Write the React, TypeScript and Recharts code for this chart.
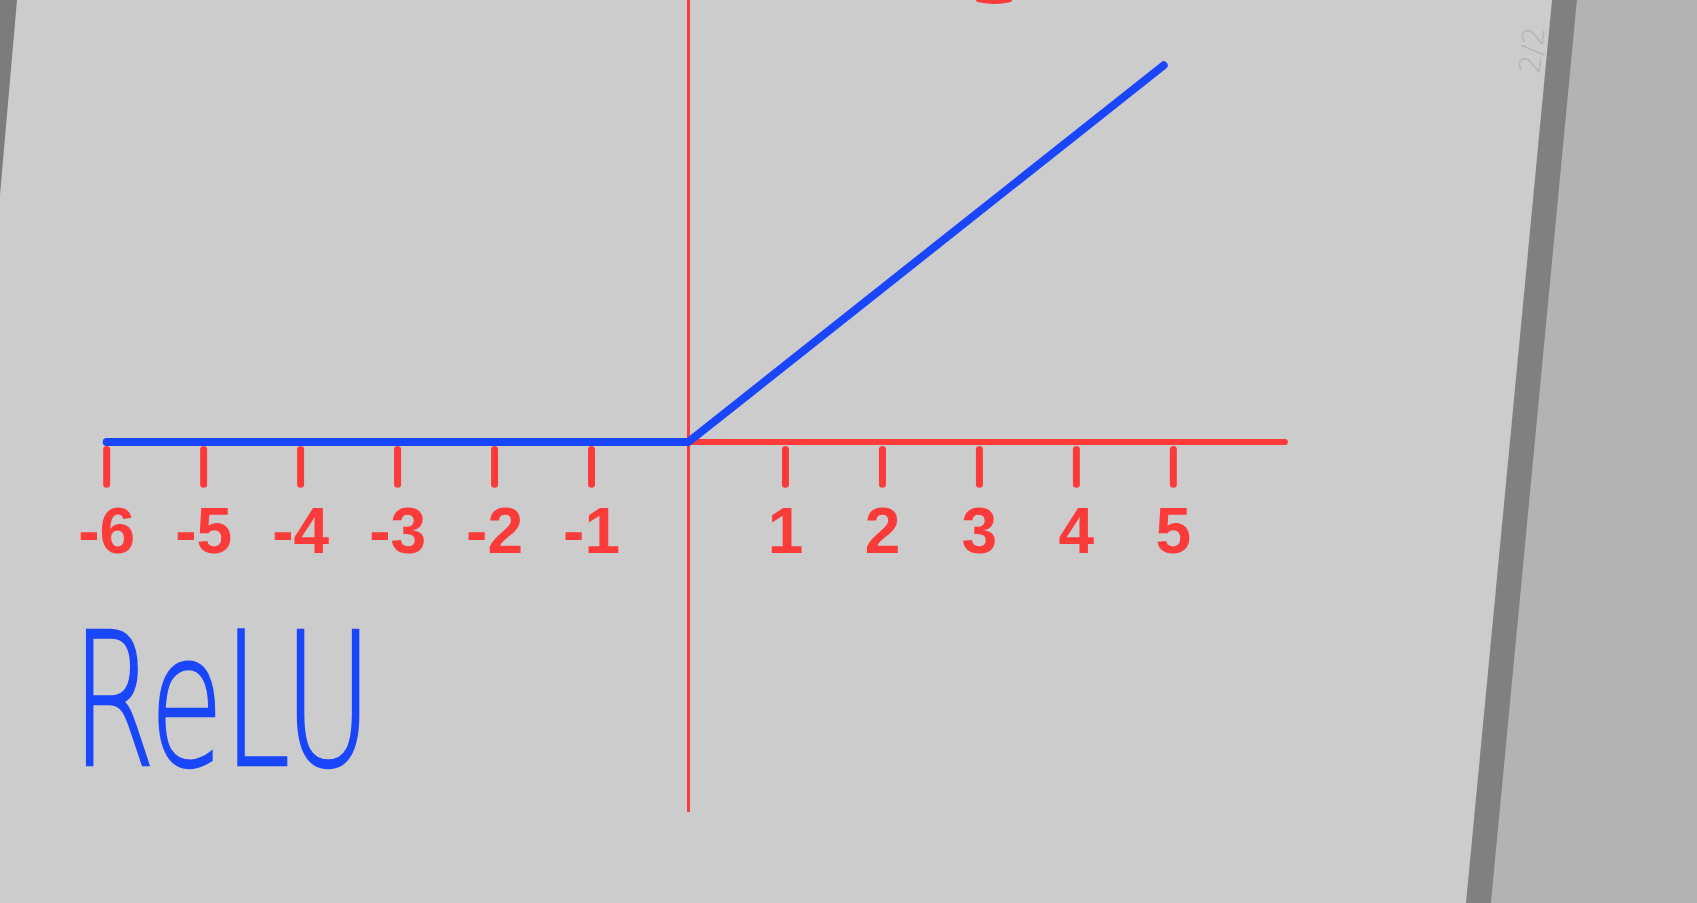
import { Line, LineChart, ReferenceDot, ReferenceLine, XAxis, YAxis } from 'recharts';

// ReLU curve
const reluX = [-6, 0, 4.9];
const reluY = [0, 0, 4.9];

const tickValues = [-6, -5, -4, -3, -2, -1, 1, 2, 3, 4, 5];
const tickLabels = ['-6', '-5', '-4', '-3', '-2', '-1', '1', '2', '3', '4', '5'];

// hand-drawn axis extents (data units)
const xAxisExtent = [-6, 6.15];
const yAxisExtent = [-4.8, 5.75];

const RED = '#fb3a3a';
const BLUE = '#1a46fb';

const data = reluX.map((x, i) => ({ x, y: reluY[i] }));

const App = () => {
  return (
    <div style={{ position: 'fixed', left: 0, top: 0, width: 1697, height: 903, overflow: 'hidden', background: '#cccccc' }}>
      <svg width={1697} height={903} style={{ position: 'absolute', left: 0, top: 0 }}>
        <rect x={0} y={0} width={1697} height={903} fill="#cccccc" />
        <polygon points="1577,0 1697,0 1697,903 1491,903" fill="#b3b3b3" />
        <polygon points="1552,0 1577,0 1491,903 1466,903" fill="#808080" />
        <polygon points="0,0 17,0 0,195" fill="#7c7c7c" />
        <path d="M 978 0 Q 995 4 1010 0" stroke={RED} strokeWidth={4} fill="none" strokeLinecap="round" />
        <text x={1532} y={50} transform="rotate(-84 1532 50)" textAnchor="middle" dominantBaseline="central"
          fontSize={29} fill="#b4b4b4" fontFamily="DejaVu Sans" fontWeight={200}>2/2</text>
        <text x={72} y={765} fontSize={185} fill={BLUE} stroke={BLUE} strokeWidth={2.5} fontFamily="DejaVu Sans" fontWeight={200}
          textLength={300} lengthAdjust="spacingAndGlyphs">ReLU</text>
      </svg>
      <div style={{ position: 'absolute', left: 0, top: 0 }}>
        <LineChart width={1697} height={903} data={data} margin={{ top: 0, right: 0, bottom: 0, left: 0 }}>
          <XAxis dataKey="x" type="number" domain={[-7.1, 10.4]} hide allowDataOverflow />
          <YAxis type="number" domain={[-6, 5.75]} hide allowDataOverflow />
          <ReferenceLine segment={[{ x: 0, y: yAxisExtent[1] }, { x: 0, y: yAxisExtent[0] }]} stroke={RED} strokeWidth={3} strokeLinecap="round" ifOverflow="visible" />
          <ReferenceLine segment={[{ x: xAxisExtent[0], y: 0 }, { x: xAxisExtent[1], y: 0 }]} stroke={RED} strokeWidth={6} strokeLinecap="round" />
          {tickValues.map((t) => (
            <ReferenceLine key={`t${t}`} segment={[{ x: t, y: -0.1 }, { x: t, y: -0.55 }]} stroke={RED} strokeWidth={7} strokeLinecap="round" />
          ))}
          {tickValues.map((t, i) => (
            <ReferenceDot key={`l${t}`} x={t} y={-1.15} r={1} fill="none" stroke="none"
              label={{ value: tickLabels[i], position: 'center', fill: RED, fontSize: 64, fontWeight: 'bold', fontFamily: 'Liberation Sans' }} />
          ))}
          <Line type="linear" dataKey="y" stroke={BLUE} strokeWidth={8} dot={false} activeDot={false} strokeLinecap="round" strokeLinejoin="round" isAnimationActive={false} />
        </LineChart>
      </div>
    </div>
  );
};

export default App;
